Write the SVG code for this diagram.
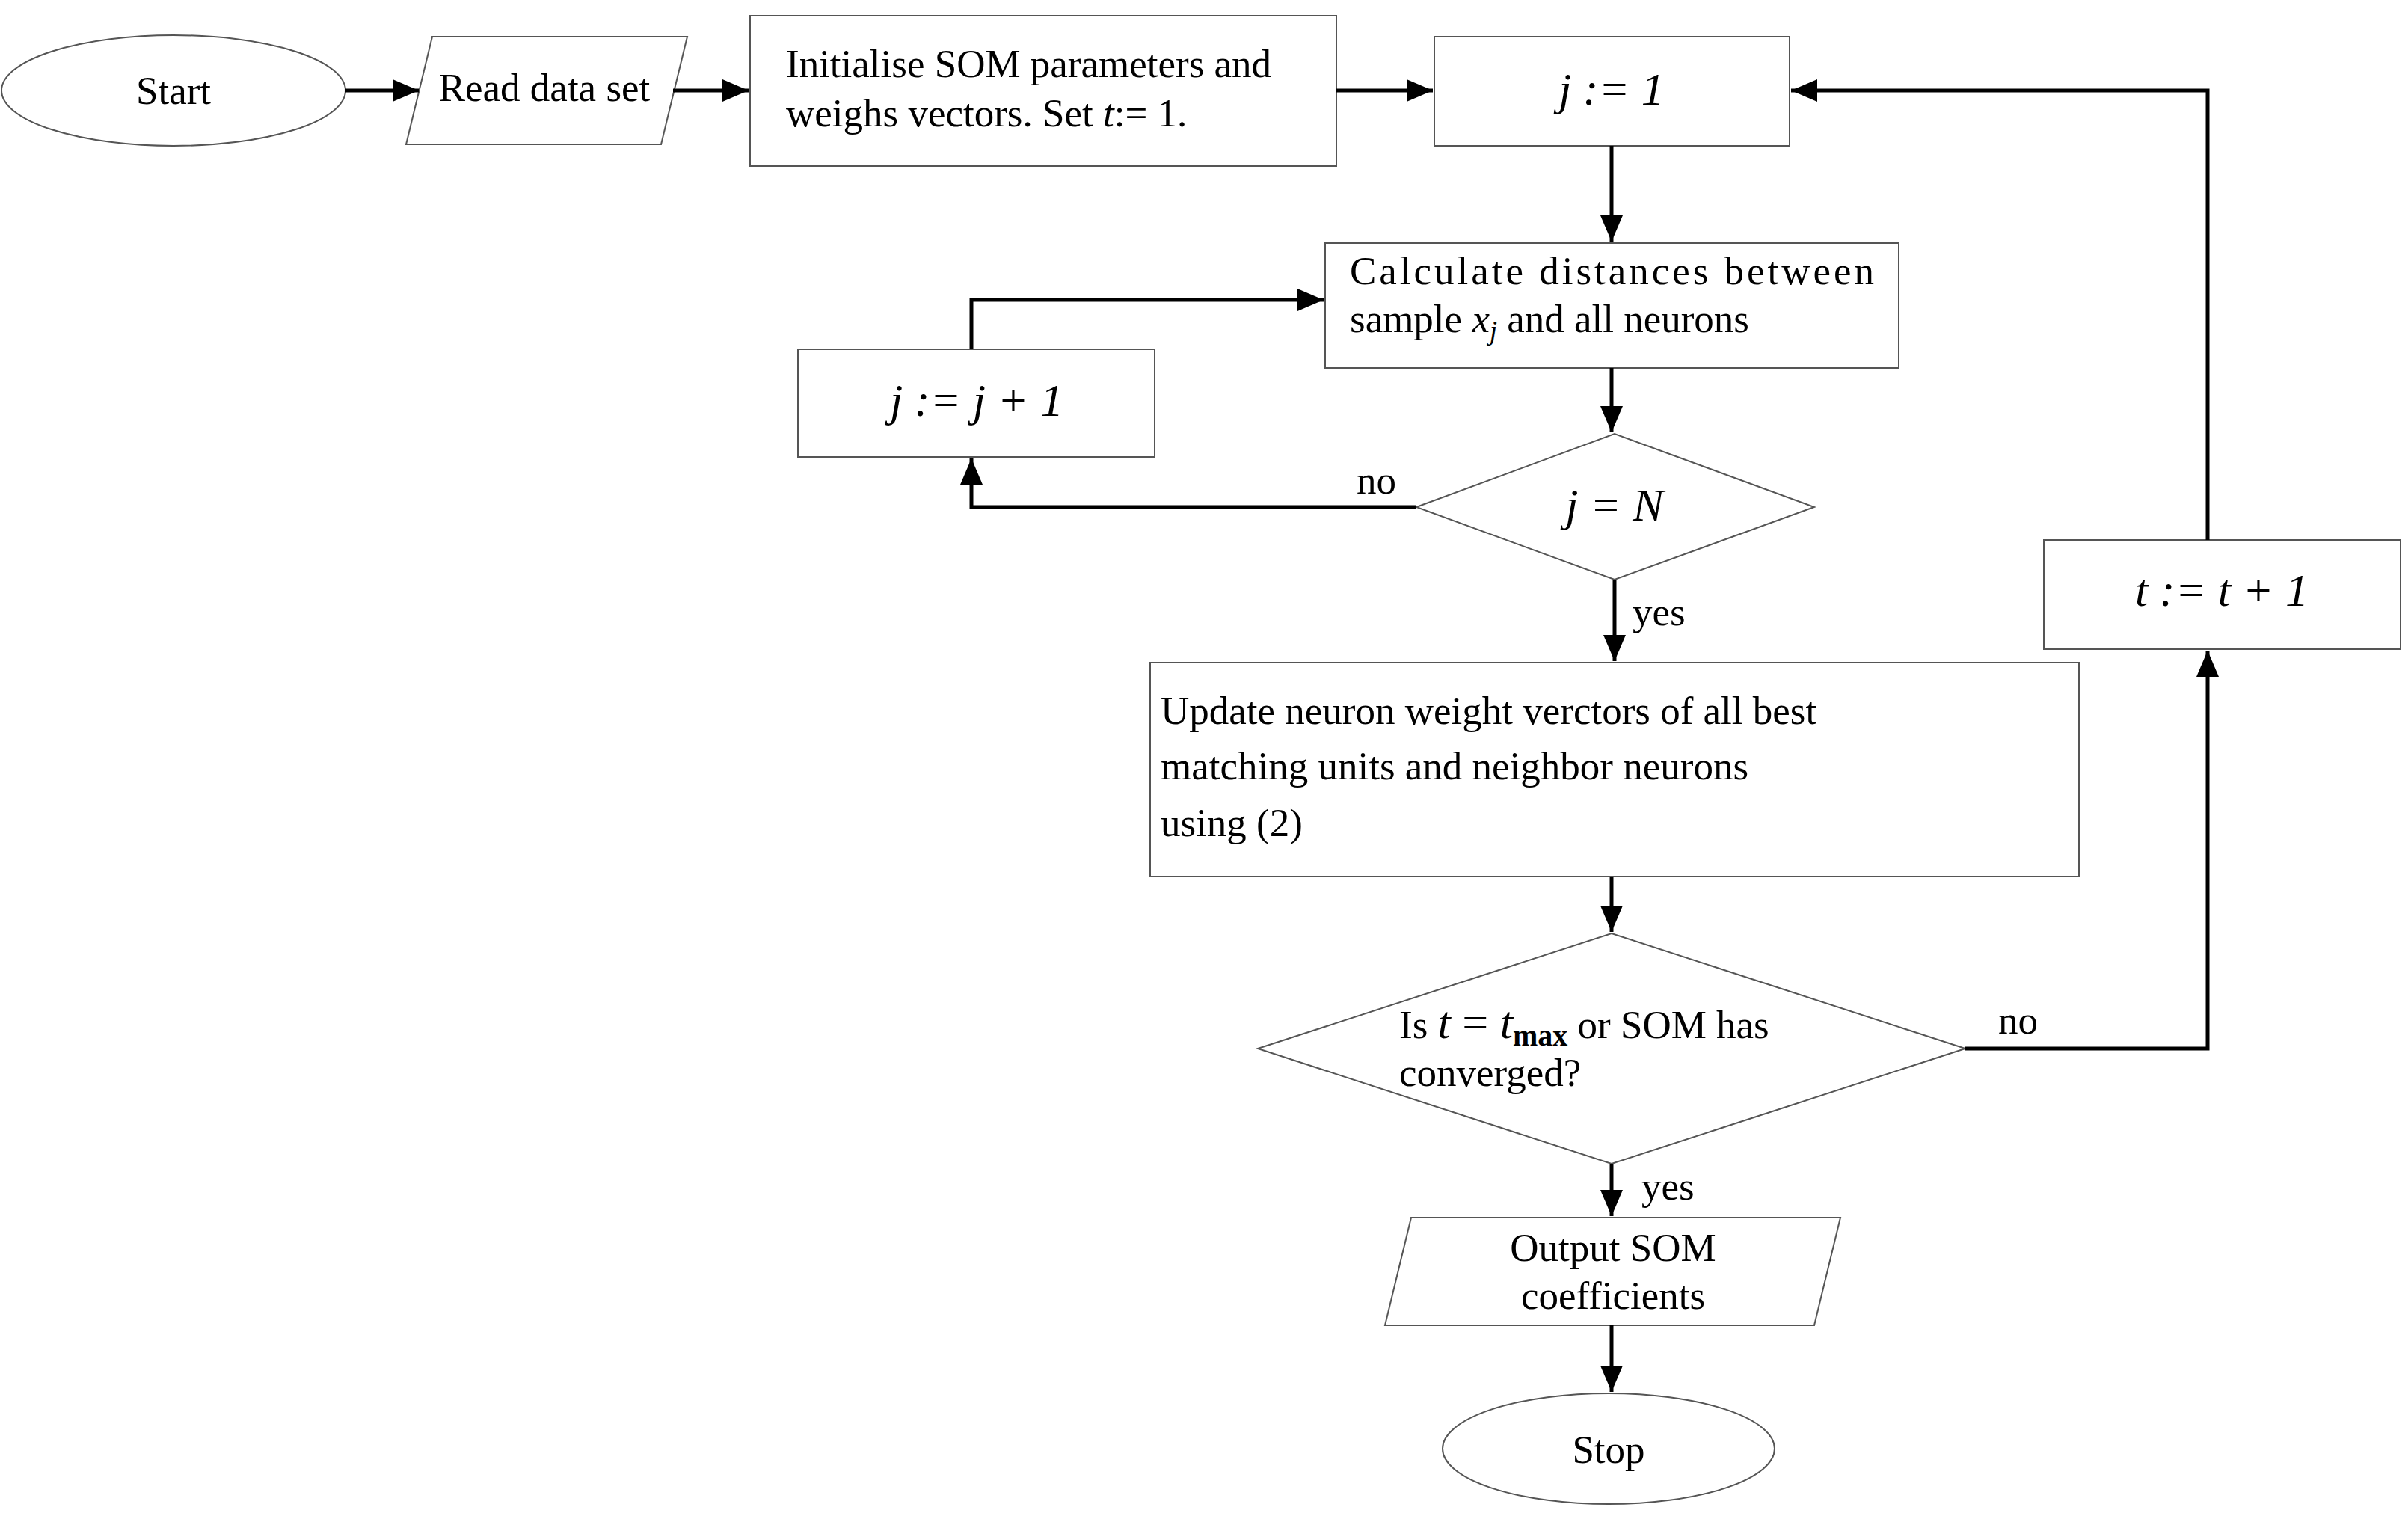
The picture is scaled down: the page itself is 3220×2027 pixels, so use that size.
<svg xmlns="http://www.w3.org/2000/svg" width="3220" height="2027" viewBox="0 0 3220 2027">
<style>
.s{fill:#fff;stroke:#555;stroke-width:2}
.t{font-family:"Liberation Serif",serif;font-size:53px;fill:#000}
.m{font-family:"Liberation Serif",serif;font-size:62px;font-style:italic;fill:#000}
.c{text-anchor:middle}
.e{fill:none;stroke:#000;stroke-width:5}
</style>
<defs><marker id="a" markerWidth="8" markerHeight="8" refX="7" refY="4" orient="auto" markerUnits="strokeWidth"><path d="M0,1 L7,4 L0,7 Z" fill="#000"/></marker></defs>
<rect width="3220" height="2027" fill="#fff"/>
<g id="start"><ellipse class="s" cx="232" cy="121" rx="230" ry="74"/><text class="t c" x="232" y="139">Start</text></g>
<g id="read"><polygon class="s" points="578,49 919,49 884,193 543,193"/><text class="t c" x="728" y="135">Read data set</text></g>
<g id="init"><rect class="s" x="1003" y="21" width="784" height="201"/><text class="t" x="1051" y="103">Initialise SOM parameters and</text><text class="t" x="1051" y="169">weighs vectors. Set <tspan font-style="italic">t</tspan>:= 1.</text></g>
<g id="j1"><rect class="s" x="1918" y="49" width="475" height="146"/><text class="m c" x="2155" y="140">j := 1</text></g>
<g id="calc"><rect class="s" x="1772" y="325" width="767" height="167"/><text class="t" x="1805" y="380" textLength="701" lengthAdjust="spacing">Calculate distances between</text><text class="t" x="1805" y="444">sample <tspan font-style="italic">x</tspan><tspan font-style="italic" font-size="36" dy="10">j</tspan><tspan dy="-10"> and all neurons</tspan></text></g>
<g id="jinc"><rect class="s" x="1067" y="467" width="477" height="144"/><text class="m c" x="1306" y="556">j := j + 1</text></g>
<g id="d1"><polygon class="s" points="1894,678 2159,580 2426,678 2159,775"/><text class="m c" x="2159" y="696">j = N</text></g>
<g id="update"><rect class="s" x="1538" y="886" width="1242" height="286"/><text class="t" x="1552" y="968" font-size="56">Update neuron weight verctors of all best</text><text class="t" x="1552" y="1042" font-size="56">matching units and neighbor neurons</text><text class="t" x="1552" y="1118" font-size="56">using (2)</text></g>
<g id="d2"><polygon class="s" points="1682,1402 2155,1248 2628,1402 2155,1556"/><text class="t" x="1871" y="1388">Is <tspan font-style="italic" font-size="62">t</tspan><tspan font-size="62"> = </tspan><tspan font-style="italic" font-size="62">t</tspan><tspan font-size="40" font-weight="bold" dy="10">max</tspan><tspan dy="-10"> or SOM has</tspan></text><text class="t" x="1871" y="1452">converged?</text></g>
<g id="tinc"><rect class="s" x="2733" y="722" width="477" height="146"/><text class="m c" x="2971" y="810">t := t + 1</text></g>
<g id="output"><polygon class="s" points="1887,1628 2461,1628 2426,1772 1852,1772"/><text class="t c" x="2157" y="1686">Output SOM</text><text class="t c" x="2157" y="1750">coefficients</text></g>
<g id="stop"><ellipse class="s" cx="2151" cy="1937" rx="222" ry="74"/><text class="t c" x="2151" y="1956">Stop</text></g>
<g id="connectors">
<path class="e" marker-end="url(#a)" d="M462,121 H560"/>
<path class="e" marker-end="url(#a)" d="M900,121 H1001"/>
<path class="e" marker-end="url(#a)" d="M1787,121 H1916"/>
<path class="e" marker-end="url(#a)" d="M2155,195 V323"/>
<path class="e" marker-end="url(#a)" d="M2952,722 V121 H2395"/>
<path class="e" marker-end="url(#a)" d="M2155,492 V578"/>
<path class="e" marker-end="url(#a)" d="M1894,678 H1299 V613"/>
<path class="e" marker-end="url(#a)" d="M1299,467 V401 H1770"/>
<path class="e" marker-end="url(#a)" d="M2159,775 V884"/>
<path class="e" marker-end="url(#a)" d="M2155,1172 V1246"/>
<path class="e" marker-end="url(#a)" d="M2628,1402 H2952 V870"/>
<path class="e" marker-end="url(#a)" d="M2155,1556 V1626"/>
<path class="e" marker-end="url(#a)" d="M2155,1772 V1861"/>
<text class="t" x="1814" y="660">no</text>
<text class="t" x="2183" y="836">yes</text>
<text class="t" x="2672" y="1382">no</text>
<text class="t" x="2195" y="1604">yes</text>
</g>
</svg>
